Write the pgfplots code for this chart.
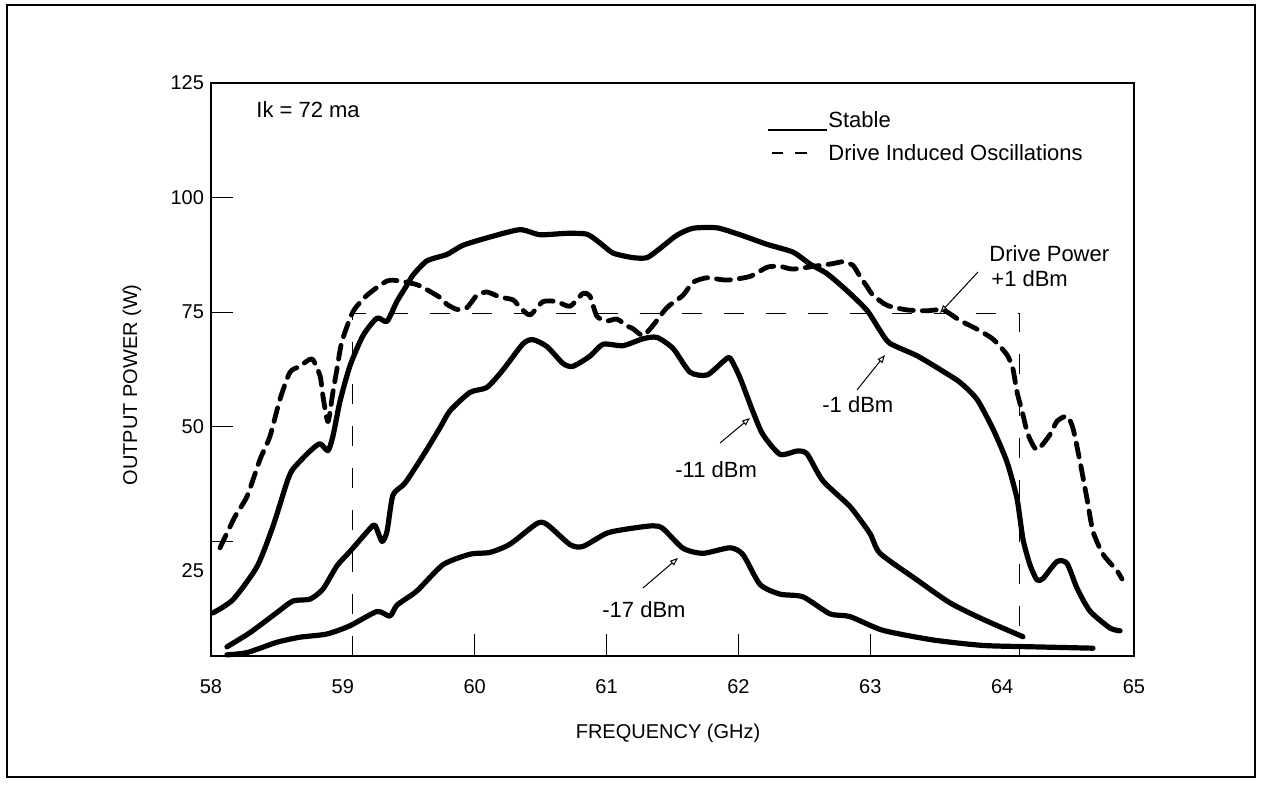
\documentclass[border=0pt]{standalone}
\usepackage{fontspec}
\setmainfont{Liberation Sans}
\usepackage{pgfplots}
\pgfplotsset{compat=1.18}
\usetikzlibrary{arrows.meta}

\pgfplotstableread{
x y
58.015 9.4
58.167 12.3
58.349 19.5
58.470 28.3
58.576 37.9
58.622 40.8
58.751 44.7
58.827 46.3
58.887 44.8
58.925 48.0
58.978 55.5
59.054 63.3
59.153 69.9
59.259 73.7
59.335 73.0
59.411 77.4
59.486 80.9
59.532 83.1
59.638 86.2
59.790 87.6
59.911 89.6
60.116 91.4
60.343 93.0
60.495 91.9
60.700 92.2
60.852 92.0
60.950 90.1
61.049 87.9
61.200 86.9
61.307 86.9
61.405 88.9
61.534 91.8
61.655 93.3
61.837 93.4
62.012 91.9
62.217 89.8
62.414 88.1
62.543 85.5
62.672 83.4
62.823 79.7
62.975 75.4
63.074 71.0
63.149 68.2
63.354 65.5
63.529 62.5
63.680 59.7
63.809 56.0
63.931 49.5
64.037 42.3
64.113 34.3
64.158 25.5
64.211 19.9
64.264 16.6
64.310 16.9
64.416 20.6
64.492 20.2
64.568 14.8
64.666 9.8
64.818 6.1
64.894 5.5
}\minusone

\pgfplotstableread{
x y
58.121 2.0
58.296 5.1
58.501 9.5
58.622 12.0
58.751 12.4
58.849 14.6
58.956 19.7
59.054 22.8
59.206 27.8
59.244 28.5
59.297 25.0
59.335 27.2
59.380 35.1
59.471 37.7
59.608 43.7
59.737 49.8
59.813 53.5
59.964 57.5
60.093 58.6
60.214 62.4
60.366 68.1
60.442 69.0
60.548 67.5
60.670 63.8
60.745 63.2
60.874 65.4
60.973 68.0
61.125 67.7
61.276 69.2
61.382 69.5
61.504 67.1
61.633 61.9
61.762 61.3
61.883 64.2
61.936 65.0
62.012 60.7
62.110 53.3
62.186 48.3
62.315 44.0
62.444 44.7
62.520 44.1
62.641 38.2
62.846 32.6
62.998 26.7
63.074 22.4
63.354 16.6
63.604 11.6
63.855 8.0
64.158 4.2
}\minuseleven

\pgfplotstableread{
x y
58.121 0.25
58.273 0.74
58.501 3.0
58.675 4.1
58.880 4.8
59.054 6.6
59.259 9.7
59.357 8.7
59.411 11.1
59.562 14.2
59.759 19.9
59.964 22.2
60.116 22.6
60.268 24.4
60.472 28.9
60.548 28.7
60.723 24.3
60.821 23.9
61.003 26.8
61.178 27.8
61.352 28.4
61.428 27.8
61.580 23.5
61.731 22.4
61.936 23.6
62.035 22.1
62.164 15.6
62.315 13.5
62.490 12.9
62.694 9.2
62.846 8.6
63.096 5.6
63.475 3.5
63.855 2.3
64.234 2.0
64.689 1.7
}\minusseventeen

\pgfplotstableread{
x y
58.068 23.6
58.182 30.4
58.273 34.8
58.372 42.9
58.447 47.9
58.523 56.0
58.599 61.9
58.675 63.2
58.766 64.8
58.827 61.1
58.849 56.7
58.887 51.1
58.925 57.6
58.956 62.7
58.993 68.6
59.077 75.1
59.183 78.7
59.335 81.8
59.433 81.8
59.562 81.0
59.638 79.9
59.737 78.2
59.790 76.7
59.866 75.6
59.941 76.0
60.017 78.7
60.093 79.4
60.192 78.3
60.290 77.7
60.343 76.1
60.419 74.4
60.518 77.3
60.624 77.3
60.723 76.3
60.821 79.1
60.874 78.5
60.927 74.1
61.003 73.1
61.079 73.5
61.155 72.0
61.200 71.4
61.276 69.9
61.352 72.1
61.458 76.0
61.580 78.7
61.655 81.5
61.762 82.5
61.913 82.0
62.088 82.8
62.217 84.8
62.315 85.0
62.414 84.4
62.596 85.1
62.717 85.6
62.793 86.0
62.869 85.2
62.922 82.8
62.975 80.6
63.021 78.7
63.127 76.5
63.278 75.5
63.430 75.3
63.551 75.5
63.680 73.2
63.809 71.3
63.931 69.1
64.037 65.7
64.082 62.6
64.113 57.6
64.158 52.6
64.196 48.3
64.264 45.0
64.363 48.3
64.416 51.2
64.492 52.3
64.537 49.7
64.590 42.5
64.643 34.4
64.689 27.2
64.765 22.2
64.871 18.6
64.909 16.8
}\oscill

\begin{document}
\begin{tikzpicture}[x=1pt,y=1pt]
\useasboundingbox (0,0) rectangle (632.5,392.5);
\draw[line width=1.1pt] (3.5,4) rectangle (627.5,390);
\begin{axis}[
  at={(105.5pt,64.5pt)}, anchor=south west,
  scale only axis, width=461.5pt, height=286.5pt,
  xmin=58, xmax=65, ymin=0, ymax=125,
  xtick={60,61,62,63},
  xticklabels={60,61,62,63},
  extra x ticks={58,59,64,65},
  extra x tick labels={58,59,64,65},
  extra x tick style={major tick length=0pt},
  ytick={25,50,75,100,125},
  yticklabels={\smash{\raisebox{-18pt}{25}},50,75,100,125},
  xtick pos=bottom, ytick pos=left,
  tick align=inside, major tick length=11pt,
  tick style={line width=0.6pt, black},
  axis line style={line width=0.7pt},
  xticklabel style={font=\fontsize{10}{12}\selectfont, yshift=-8pt},
  yticklabel style={font=\fontsize{10}{12}\selectfont},
  clip=false,
]
\addplot[black, line width=0.5pt, dash pattern=on 10pt off 11pt] coordinates {(59.07,0) (59.07,74.7) (64.13,74.7) (64.13,0)};
\addplot[black, line width=2.6pt, smooth, tension=0.4, line cap=round, line join=round] table {\minusone};
\addplot[black, line width=2.6pt, smooth, tension=0.4, line cap=round, line join=round] table {\minuseleven};
\addplot[black, line width=2.6pt, smooth, tension=0.4, line cap=round, line join=round] table {\minusseventeen};
\addplot[black, line width=2.4pt, smooth, tension=0.4, dash pattern=on 7pt off 4.5pt, line cap=round, line join=round] table {\oscill};
\end{axis}
% labels
\node[font=\fontsize{10}{12}\selectfont] at (334,26) {FREQUENCY (GHz)};
\node[font=\fontsize{10}{12}\selectfont, rotate=90] at (66,200) {OUTPUT POWER (W)};
% annotations
\begin{scope}[font=\fontsize{11}{13}\selectfont]
\node[anchor=base west, inner sep=0] at (128,333.5) {Ik = 72 ma};
\draw[line width=0.6pt] (384,327.5) -- (413.5,327.5);
\node[anchor=base west, inner sep=0] at (414,328.5) {Stable};
\draw[line width=0.6pt] (386,316) -- (391.5,316);
\draw[line width=0.6pt] (397.5,316) -- (403.5,316);
\node[anchor=base west, inner sep=0] at (414,312) {Drive Induced Oscillations};
\node[anchor=base west, inner sep=0] at (494.5,261.5) {Drive Power};
\node[anchor=base west, inner sep=0] at (495.5,249) {+1 dBm};
\draw[line width=0.5pt, -{Triangle[open, length=4pt, width=3pt]}] (489,256.5) -- (470,236);
\node[anchor=base west, inner sep=0] at (411,186) {-1 dBm};
\draw[line width=0.5pt, -{Triangle[open, length=4pt, width=3pt]}] (428.5,197.5) -- (442.5,215);
\node[anchor=base west, inner sep=0] at (337.5,153.5) {-11 dBm};
\draw[line width=0.5pt, -{Triangle[open, length=4pt, width=3pt]}] (360,171) -- (375,183.5);
\node[anchor=base west, inner sep=0] at (301,83.5) {-17 dBm};
\draw[line width=0.5pt, -{Triangle[open, length=4pt, width=3pt]}] (321.5,98.5) -- (339,113.5);
\end{scope}
\end{tikzpicture}
\end{document}
